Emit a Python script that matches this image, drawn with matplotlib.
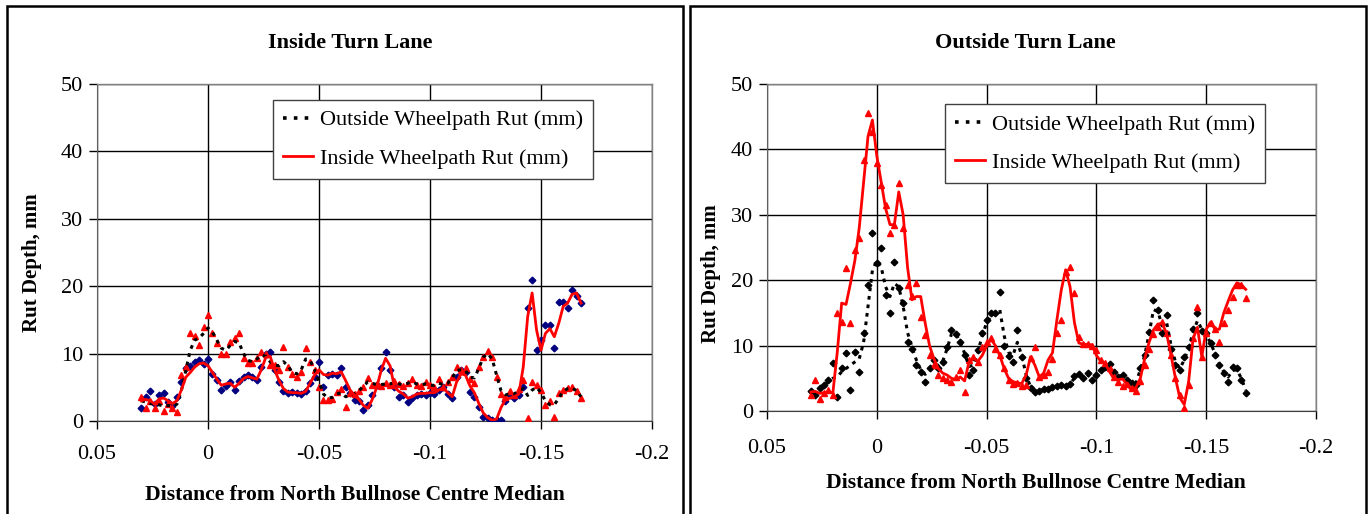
import numpy as np
import matplotlib
matplotlib.use("Agg")
import matplotlib.pyplot as plt
from matplotlib.patches import Rectangle
from matplotlib.lines import Line2D

plt.rcParams['font.family'] = ['Liberation Serif', 'DejaVu Serif']
plt.rcParams['axes.unicode_minus'] = False

# Distance stations (every 0.002)
distance = np.round(0.030 - 0.002 * np.arange(100), 3)

# ---- Inside Turn Lane ----
inside_navy_pts = [2.0, 3.5, 4.5, 2.5, 3.8, 4.2, 2.8, 2.2, 3.5, 5.8,
                   7.9, 8.2, 8.8, 9.0, 8.5, 9.2, 7.0, 6.1, 4.6, 5.2,
                   5.8, 4.6, 6.0, 6.6, 6.8, 6.5, 6.1, 8.0, 10.0, 10.2,
                   7.5, 5.8, 4.5, 4.2, 4.3, 4.2, 4.0, 4.5, 5.6, 6.6,
                   8.8, 5.0, 6.8, 7.0, 6.8, 7.8, 5.0, 4.1, 3.1, 3.0,
                   1.6, 2.4, 3.9, 5.3, 7.9, 10.3, 7.6, 5.0, 3.6, 3.9,
                   2.8, 3.4, 3.9, 4.0, 3.9, 4.1, 4.0, 4.6, 5.0, 4.0,
                   3.4, 6.5, 7.6, 7.3, 4.3, 3.6, 2.1, 0.6, 0.4, 0.1,
                   0.1, 0.2, 3.0, 3.8, 3.4, 3.8, 5.0, 16.8, 20.9, 10.5,
                   12.0, 14.2, 14.2, 10.8, 17.7, 17.7, 16.8, 19.4, 18.6, 17.5]
inside_red_line = [3.0, 3.2, 3.0, 2.5, 3.3, 3.4, 3.0, 2.6, 3.0, 4.6,
                   6.5, 7.2, 8.0, 8.5, 8.6, 8.2, 7.2, 6.2, 5.3, 5.5,
                   5.6, 5.0, 5.6, 6.3, 6.6, 6.4, 6.2, 7.6, 9.4, 9.6,
                   7.6, 6.0, 4.8, 4.3, 4.2, 4.2, 4.1, 4.4, 5.6, 6.8,
                   7.6, 6.9, 6.8, 7.1, 7.0, 7.3, 6.0, 4.6, 3.8, 3.2,
                   2.3, 1.9, 3.2, 5.0, 7.5, 9.3, 8.2, 5.0, 4.4, 4.0,
                   3.4, 3.6, 4.0, 4.1, 4.1, 4.2, 4.2, 4.6, 4.9, 4.2,
                   3.6, 5.8, 7.0, 6.8, 5.2, 4.2, 2.6, 1.2, 0.5, 0.1,
                   0.3, 2.0, 3.2, 3.4, 3.6, 4.0, 8.0, 15.5, 19.0, 13.5,
                   10.5, 13.0, 13.7, 12.5, 14.5, 17.0, 17.5, 18.8, 19.0, 17.5]
inside_tri_pts = [3.5, 2.0, 3.0, 2.0, 3.0, 1.5, 2.5, 2.0, 1.3, 6.8,
                  8.0, 13.0, 12.6, 11.3, 14.0, 15.7, 13.0, 11.6, 10.0, 10.0,
                  11.7, 12.3, 13.0, 9.3, 8.6, 8.6, 9.3, 10.3, 10.0, 8.3,
                  8.3, 7.5, 11.0, 8.0, 7.0, 6.6, 7.2, 10.8, 8.8, 7.6,
                  5.0, 3.1, 3.1, 3.3, 4.3, 4.8, 2.1, 4.2, 4.0, 4.5,
                  5.0, 6.4, 5.3, 5.5, 5.2, 5.6, 5.3, 6.0, 5.5, 5.2,
                  5.6, 6.2, 5.4, 5.2, 5.8, 5.3, 5.0, 6.2, 5.0, 5.8,
                  6.5, 8.0, 7.5, 7.9, 6.2, 5.6, 8.0, 9.5, 10.4, 9.5,
                  6.5, 4.0, 3.5, 4.5, 3.8, 4.8, 6.1, 0.5, 5.8, 5.3,
                  4.6, 2.4, 3.0, 0.6, 4.1, 4.6, 4.9, 5.0, 4.4, 3.4]
inside_black_line = [3.0, 2.8, 2.6, 2.5, 2.4, 2.2, 2.3, 2.2, 2.5, 4.5,
                     7.5, 10.5, 12.0, 12.3, 13.0, 13.8, 13.2, 12.0, 10.8, 10.5,
                     11.2, 11.8, 11.6, 10.0, 9.0, 8.8, 9.2, 9.8, 9.6, 8.8,
                     8.3, 8.2, 8.8, 8.2, 7.2, 7.0, 7.6, 9.2, 9.0, 7.6,
                     5.8, 4.0, 3.4, 3.5, 4.0, 4.2, 3.6, 3.8, 4.1, 4.5,
                     5.2, 5.8, 5.6, 5.4, 5.4, 5.5, 5.5, 5.7, 5.5, 5.4,
                     5.6, 5.8, 5.5, 5.4, 5.5, 5.3, 5.3, 5.6, 5.4, 5.6,
                     6.4, 7.5, 7.6, 7.5, 6.5, 6.4, 7.8, 9.5, 10.0, 9.2,
                     6.8, 4.5, 3.9, 4.0, 4.0, 4.6, 4.8, 3.8, 4.6, 5.0,
                     4.2, 3.0, 2.4, 2.4, 3.4, 4.4, 4.8, 4.9, 4.5, 3.6]

# ---- Outside Turn Lane ----
outside_pts = [3.0, 2.5, 3.5, 4.0, 4.8, 7.3, 2.2, 6.6, 8.9, 3.2,
               9.0, 6.0, 11.9, 19.3, 27.2, 22.6, 24.9, 17.7, 15.0, 22.8,
               18.8, 16.5, 10.5, 9.5, 7.0, 6.0, 4.5, 6.5, 7.8, 6.5,
               7.5, 9.8, 12.4, 11.8, 10.5, 8.5, 5.5, 6.3, 9.3, 11.9,
               13.9, 15.0, 15.0, 18.2, 10.0, 8.4, 7.5, 12.4, 8.3, 5.0,
               3.5, 2.9, 3.0, 3.3, 3.4, 3.6, 3.8, 3.9, 3.8, 4.2,
               5.3, 5.6, 5.0, 5.8, 4.7, 5.5, 6.3, 6.8, 7.2, 6.0,
               5.2, 5.5, 4.8, 4.3, 4.0, 6.6, 8.6, 12.1, 17.0, 15.5,
               12.0, 14.7, 9.5, 7.0, 6.2, 8.2, 9.8, 12.5, 15.0, 12.3,
               11.9, 10.4, 8.6, 7.0, 5.8, 4.4, 6.7, 6.5, 4.7, 2.8]
outside_line = [2.8, 3.0, 3.4, 3.9, 4.5, 5.0, 5.2, 6.0, 6.5, 7.0,
                7.5, 8.0, 10.5, 16.0, 21.5, 23.0, 22.0, 19.0, 17.5, 19.5,
                19.0, 16.0, 12.0, 9.8, 7.8, 6.3, 5.6, 6.2, 7.0, 7.0,
                7.6, 9.5, 11.8, 11.8, 10.6, 8.8, 6.8, 7.0, 9.0, 11.5,
                13.5, 14.5, 15.0, 15.5, 11.5, 9.0, 8.5, 10.5, 8.5, 5.5,
                3.7, 3.1, 3.1, 3.3, 3.4, 3.6, 3.8, 3.9, 3.9, 4.2,
                5.0, 5.4, 5.2, 5.5, 5.0, 5.5, 6.2, 6.7, 6.9, 6.2,
                5.4, 5.3, 4.8, 4.4, 4.3, 6.3, 8.5, 11.8, 15.5, 15.2,
                13.0, 13.5, 10.0, 7.5, 6.5, 7.8, 9.7, 12.0, 13.8, 12.5,
                11.7, 10.4, 8.8, 7.2, 6.0, 5.2, 6.2, 6.3, 5.0, 3.2]
inside_pts = [2.5, 4.7, 1.8, 2.8, 3.2, 2.5, 15.0, 13.6, 21.9, 13.4,
              24.6, 26.4, 38.4, 45.5, 42.7, 37.9, 34.6, 31.5, 27.2, 28.4,
              34.9, 28.0, 19.3, 17.6, 19.6, 14.4, 11.6, 8.5, 7.0, 5.5,
              5.0, 4.8, 4.5, 5.2, 6.3, 2.9, 7.8, 8.3, 7.5, 9.8,
              10.5, 11.1, 9.5, 8.5, 6.5, 4.7, 4.2, 4.3, 3.8, 4.0,
              8.1, 9.8, 5.2, 5.5, 6.0, 8.0, 11.9, 13.9, 21.3, 22.0,
              18.0, 11.3, 10.2, 10.2, 10.0, 9.3, 7.8, 7.3, 6.5, 5.2,
              4.5, 3.8, 4.2, 3.5, 3.0, 4.6, 7.0, 9.5, 11.8, 12.8,
              13.6, 12.0, 8.5, 5.0, 2.5, 0.5, 4.0, 11.2, 15.9, 8.3,
              11.9, 13.5, 12.5, 10.5, 13.5, 15.4, 17.4, 19.3, 19.3, 17.3]
inside_line = [2.9, 3.0, 2.7, 2.8, 2.9, 2.8, 9.0, 16.5, 16.3, 19.5,
               23.0, 28.0, 35.0, 42.0, 44.5, 39.0, 35.0, 31.0, 28.5, 28.5,
               33.5, 30.0, 22.0, 17.0, 17.5, 17.5, 13.5, 10.0, 8.0, 6.5,
               5.8, 5.5, 5.0, 4.8, 5.2, 4.6, 7.5, 8.1, 7.6, 8.5,
               9.9, 11.0, 10.0, 8.5, 6.5, 5.0, 4.5, 4.3, 4.2, 5.5,
               8.3, 7.0, 5.2, 5.8, 7.8, 8.9, 13.9, 18.5, 21.6, 19.0,
               13.5, 10.4, 10.2, 10.2, 10.1, 8.5, 7.6, 7.3, 6.0, 4.9,
               4.8, 4.9, 4.0, 3.2, 3.6, 5.0, 8.0, 10.5, 12.4, 13.3,
               13.4, 11.8, 8.5, 5.0, 2.0, 1.0, 4.5, 11.0, 12.8, 8.3,
               12.5, 13.6, 12.5, 12.5, 15.0, 16.8, 18.5, 19.6, 19.3, 18.6]

x_ticks = [0.05, 0, -0.05, -0.1, -0.15, -0.2]
x_tick_labels = ["0.05", "0", "-0.05", "-0.1", "-0.15", "-0.2"]
y_ticks = [0, 10, 20, 30, 40, 50]
legend_labels = ["Outside Wheelpath Rut (mm)", "Inside Wheelpath Rut (mm)"]

W, H = 1372, 514
fig = plt.figure(figsize=(W / 100, H / 100), dpi=100)

# panel frames
for x0, x1 in [(7, 683), (690, 1366)]:
    fig.add_artist(Rectangle((x0 / W, -0.05), (x1 - x0) / W, 1.05 - 6 / H,
                             transform=fig.transFigure, fill=False,
                             edgecolor='black', linewidth=1.8))

def style_axes(ax, title, title_x, ylab_x, ylab_y, xlab_x, xlab_y, xpad):
    ax.set_xlim(0.05, -0.2)
    ax.set_ylim(0, 50)
    ax.set_xticks(x_ticks)
    ax.set_xticklabels(x_tick_labels, fontsize=16)
    ax.set_yticks(y_ticks)
    ax.set_yticklabels([str(v) for v in y_ticks], fontsize=16)
    ax.grid(True, color='black', linewidth=1.0)
    ax.set_axisbelow(True)
    for s in ['top', 'right']:
        ax.spines[s].set_color('#808080')
        ax.spines[s].set_linewidth(1.0)
    ax.spines['left'].set_color('#606060')
    ax.spines['bottom'].set_color('#404040')
    ax.tick_params(axis='both', direction='out', length=6, width=1, pad=4)
    ax.tick_params(axis='x', pad=xpad)
    fig.text(title_x, 1 - 43 / H, title, fontsize=16, fontweight='bold',
             ha='center', va='center')
    ax.set_ylabel("Rut Depth, mm", fontsize=15, fontweight='bold')
    ax.yaxis.set_label_coords(ylab_x, ylab_y)
    ax.set_xlabel("Distance from North Bullnose Centre Median", fontsize=15.6,
                  fontweight='bold')
    ax.xaxis.set_label_coords(xlab_x, xlab_y)

# Left panel
ax1 = fig.add_axes([97 / W, 1 - 421 / H, (652 - 97) / W, (421 - 84) / H])
ax1.plot(distance, inside_navy_pts, linestyle='none', marker='D', ms=3.4,
         color='#000080', zorder=3)
ax1.plot(distance, inside_tri_pts, linestyle='none', marker='^', ms=4.2,
         color='red', zorder=3)
ax1.plot(distance, inside_black_line, color='black', lw=2.2,
         linestyle=(0, (1.2, 1.6)), zorder=4)
ax1.plot(distance, inside_red_line, color='red', lw=2.0, zorder=4)
style_axes(ax1, "Inside Turn Lane", 350 / W, -0.1, 0.47, 0.465, -0.19, 11)

# Right panel
ax2 = fig.add_axes([767 / W, 1 - 411 / H, (1316 - 767) / W, (411 - 84) / H])
ax2.plot(distance, outside_pts, linestyle='none', marker='D', ms=3.4,
         color='black', zorder=3)
ax2.plot(distance, inside_pts, linestyle='none', marker='^', ms=4.2,
         color='red', zorder=3)
ax2.plot(distance, outside_line, color='black', lw=2.2,
         linestyle=(0, (1.2, 1.6)), zorder=4)
ax2.plot(distance, inside_line, color='red', lw=2.0, zorder=4)
style_axes(ax2, "Outside Turn Lane", 1025 / W, -0.084, 0.42, 0.489, -0.19, 14)

handles = [Line2D([0], [0], color='black', lw=2.6, linestyle=(0, (1.0, 2.0))),
           Line2D([0], [0], color='red', lw=2.0)]
for ax, loc in [(ax1, (0.317, 0.953)), (ax2, (0.324, 0.939))]:
    leg = ax.legend(handles, legend_labels, loc='upper left', bbox_to_anchor=loc,
                    borderaxespad=0, fontsize=16, frameon=True, fancybox=False,
                    framealpha=1, edgecolor='#404040', handlelength=1.35,
                    borderpad=0.45, labelspacing=0.8, handletextpad=0.3)
    leg.get_frame().set_linewidth(1.0)

fig.savefig("out.png", dpi=100)
